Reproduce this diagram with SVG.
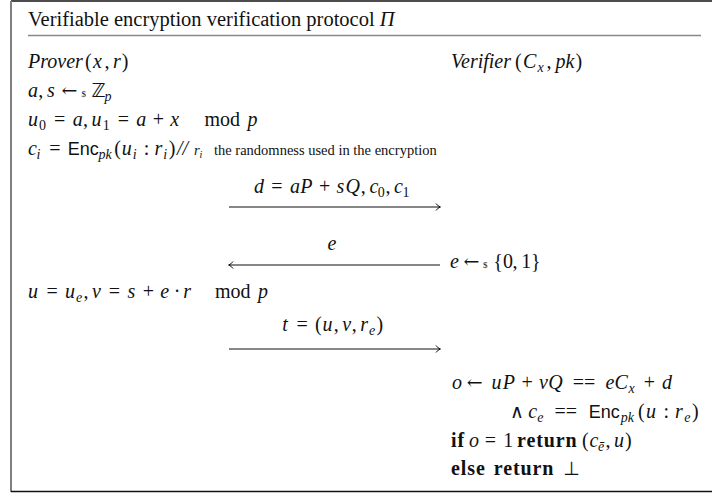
<svg xmlns="http://www.w3.org/2000/svg" width="712" height="496" viewBox="0 0 712 496">
<defs>
<style>
text{font-family:"Liberation Serif","DejaVu Serif",serif;font-size:20px;fill:#111}
.it{font-style:italic}
.bf{font-weight:bold;letter-spacing:0.9px}
.sf{font-family:"Liberation Sans","DejaVu Sans",sans-serif;font-size:18px}
.sub{font-size:14px}
.tiny{font-size:9px}
.sym{font-family:"DejaVu Serif","DejaVu Sans",serif;font-size:19px}
.thin{font-family:"DejaVu Sans",sans-serif;font-weight:200;font-size:19px}
.bb{font-family:"DejaVu Sans",sans-serif;font-size:19px}
.sm{font-size:14.5px}
.line{stroke:#111;stroke-width:1.1;fill:none}
</style>
<marker id="head" markerWidth="10" markerHeight="10" refX="7" refY="5" orient="auto" markerUnits="userSpaceOnUse">
<path d="M3,1.5 Q5,4.4 7.5,5 Q5,5.6 3,8.5" fill="none" stroke="#111" stroke-width="1"/>
</marker>
</defs>
<rect width="712" height="496" fill="#fff"/>
<g id="frame">
<line x1="11" y1="1" x2="712" y2="1" stroke="#111" stroke-width="1.5"/>
<line x1="11" y1="1" x2="11" y2="492" stroke="#808080" stroke-width="2"/>
<line x1="11" y1="491.5" x2="712" y2="491.5" stroke="#111" stroke-width="1.5"/>
<line x1="28" y1="35.5" x2="701" y2="35.5" stroke="#888" stroke-width="1.4"/>
</g>
<g id="title">
<text x="28" y="26" style="font-size:20.5px">Verifiable encryption verification protocol <tspan class="it">Π</tspan></text>
</g>
<g id="prover">
<text y="68"><tspan class="it" x="28">Prover</tspan><tspan x="85">(</tspan><tspan class="it" x="93">x</tspan><tspan x="104.5">,</tspan><tspan class="it" x="113.1">r</tspan><tspan x="121.8">)</tspan></text>
<text y="97"><tspan class="it" x="28">a</tspan><tspan x="38.3">,</tspan><tspan class="it" x="46.9">s</tspan><tspan class="sym" x="61.4">←</tspan><tspan class="tiny" x="81.5">$</tspan><tspan class="bb" x="91.4">ℤ</tspan><tspan class="sub it" x="104.4" y="101">p</tspan></text>
<text y="126"><tspan class="it" x="28">u</tspan><tspan class="sub" x="39.1" y="130">0</tspan><tspan x="54.1" y="126">=</tspan><tspan class="it" x="72.7">a</tspan><tspan x="83">,</tspan><tspan class="it" x="91.6">u</tspan><tspan class="sub" x="102.7" y="130">1</tspan><tspan x="117.7" y="126">=</tspan><tspan class="it" x="136.3">a</tspan><tspan x="152.8">+</tspan><tspan class="it" x="170.3">x</tspan><tspan x="204.4">mod</tspan><tspan class="it" x="247.5">p</tspan></text>
<text y="155"><tspan class="it" x="28">c</tspan><tspan class="sub it" x="36.4" y="159">i</tspan><tspan x="49.2" y="155">=</tspan><tspan class="sf" x="67.8">Enc</tspan><tspan class="sub it" x="98.5" y="159">pk</tspan><tspan x="114.2" y="155">(</tspan><tspan class="it" x="121.7">u</tspan><tspan class="sub it" x="132.8" y="159">i</tspan><tspan x="143.7" y="155">:</tspan><tspan class="it" x="154.5">r</tspan><tspan class="sub it" x="163.2" y="159">i</tspan><tspan x="168.7" y="155">)</tspan><tspan class="it" x="177">//</tspan><tspan class="it sm" x="194">r</tspan><tspan class="it" style="font-size:10px" x="199.5" y="158">i</tspan><tspan class="sm" x="214" y="155">the randomness used in the encryption</tspan></text>
<text y="298"><tspan class="it" x="28">u</tspan><tspan x="46.4">=</tspan><tspan class="it" x="65">u</tspan><tspan class="sub it" x="76.1" y="302">e</tspan><tspan x="83.5" y="298">,</tspan><tspan class="it" x="92.1">v</tspan><tspan x="108.8">=</tspan><tspan class="it" x="127.4">s</tspan><tspan x="142.7">+</tspan><tspan class="it" x="160.2">e</tspan><tspan x="173.7">·</tspan><tspan class="it" x="183.2">r</tspan><tspan x="215">mod</tspan><tspan class="it" x="258">p</tspan></text>
</g>
<g id="verifier">
<text y="68"><tspan class="it" x="451">Verifier</tspan><tspan x="515">(</tspan><tspan class="it" x="523">C</tspan><tspan class="sub it" x="537.5" y="72">x</tspan><tspan x="546.5" y="68">,</tspan><tspan class="it" x="555.5">p</tspan><tspan class="it" x="565.5">k</tspan><tspan x="575.5">)</tspan></text>
<text y="268"><tspan class="it" x="450">e</tspan><tspan class="sym" x="463.4">←</tspan><tspan class="tiny" x="483">$</tspan><tspan x="493.2">{</tspan><tspan x="502.9">0</tspan><tspan x="512.6">,</tspan><tspan x="521.2">1</tspan><tspan x="530.9">}</tspan></text>
<text y="389"><tspan class="it" x="452">o</tspan><tspan class="sym" x="466.8">←</tspan><tspan class="it" x="491.6">u</tspan><tspan class="it" x="502.7">P</tspan><tspan x="521.4">+</tspan><tspan class="it" x="538.9">v</tspan><tspan class="it" x="548.3">Q</tspan><tspan x="572.8">==</tspan><tspan class="it" x="605.6">e</tspan><tspan class="it" x="614.6">C</tspan><tspan class="sub it" x="628.5" y="393">x</tspan><tspan x="643.7" y="389">+</tspan><tspan class="it" x="662">d</tspan></text>
<text y="418"><tspan class="thin" x="510">∧</tspan><tspan class="it" x="528.3">c</tspan><tspan class="sub it" x="537.2" y="422">e</tspan><tspan x="554.6" y="418">==</tspan><tspan class="sf" x="588.7">Enc</tspan><tspan class="sub it" x="620.8" y="422">pk</tspan><tspan x="638" y="418">(</tspan><tspan class="it" x="646">u</tspan><tspan x="663.5">:</tspan><tspan class="it" x="675">r</tspan><tspan class="sub it" x="684.2" y="422">e</tspan><tspan x="692.1" y="418">)</tspan></text>
<text y="447"><tspan class="bf" x="451">if</tspan><tspan class="it" x="469">o</tspan><tspan x="484.7">=</tspan><tspan x="503.3">1</tspan><tspan class="bf" x="517">return</tspan><tspan x="582">(</tspan><tspan class="it" x="589.5">c</tspan><tspan class="sub it" x="598" y="451">ē</tspan><tspan x="605.4" y="447">,</tspan><tspan class="it" x="614">u</tspan><tspan x="625">)</tspan></text>
<text y="475"><tspan class="bf" x="451">else</tspan><tspan class="bf" x="493.8">return</tspan><tspan class="bb" x="563.3">⊥</tspan></text>
</g>
<g id="connectors">
<line class="line" x1="229" y1="207" x2="440" y2="207" marker-end="url(#head)"/>
<text y="193"><tspan class="it" x="253.9">d</tspan><tspan x="271.3">=</tspan><tspan class="it" x="289.9">a</tspan><tspan class="it" x="300.2">P</tspan><tspan x="318.9">+</tspan><tspan class="it" x="336.4">s</tspan><tspan class="it" x="345.5">Q</tspan><tspan x="360.8">,</tspan><tspan class="it" x="369.4">c</tspan><tspan class="sub" x="377.8" y="197">0</tspan><tspan x="385.5" y="193">,</tspan><tspan class="it" x="394.1">c</tspan><tspan class="sub" x="402.5" y="197">1</tspan></text>
<line class="line" x1="440" y1="265" x2="229" y2="265" marker-end="url(#head)"/>
<text x="327.5" y="250" class="it">e</text>
<line class="line" x1="229" y1="349" x2="440" y2="349" marker-end="url(#head)"/>
<text y="331"><tspan class="it" x="282.2">t</tspan><tspan x="296.5">=</tspan><tspan x="315.1">(</tspan><tspan class="it" x="322.6">u</tspan><tspan x="333.7">,</tspan><tspan class="it" x="342.3">v</tspan><tspan x="351.7">,</tspan><tspan class="it" x="360.3">r</tspan><tspan class="sub it" x="369" y="335">e</tspan><tspan x="376.4" y="331">)</tspan></text>
</g>
</svg>
